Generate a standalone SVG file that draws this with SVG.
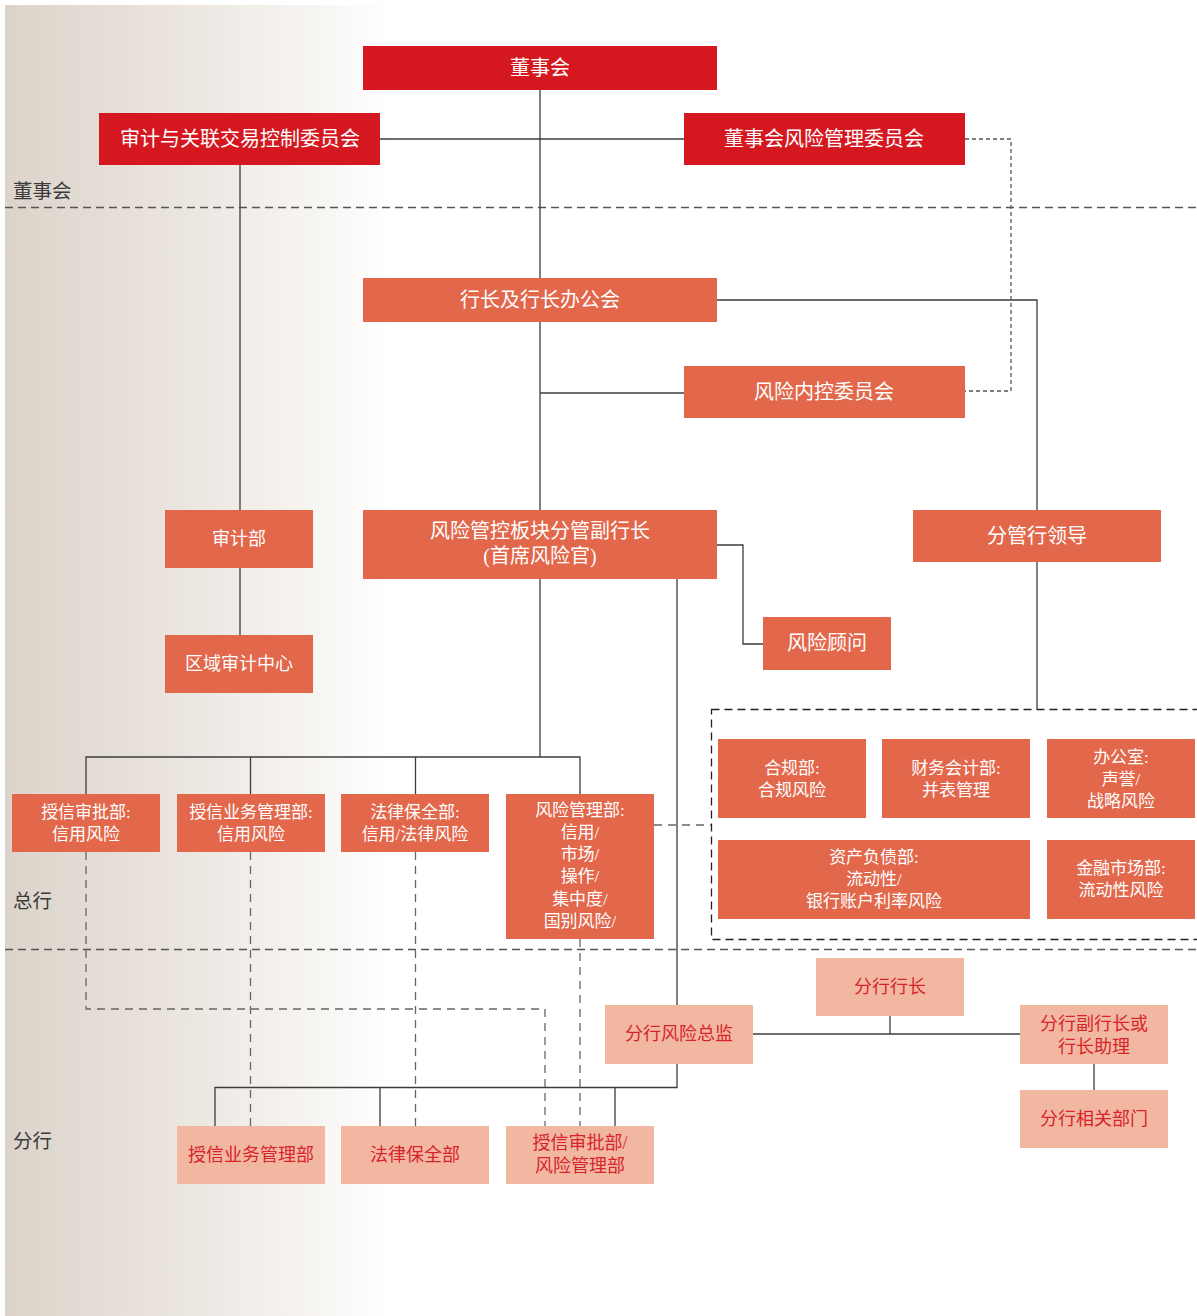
<svg xmlns="http://www.w3.org/2000/svg" width="1197" height="1316" viewBox="0 0 1197 1316">
<defs>
<linearGradient id="bg" x1="5" y1="0" x2="392" y2="0" gradientUnits="userSpaceOnUse">
<stop offset="0" stop-color="#dcd4ca"/>
<stop offset="0.45" stop-color="#ebe5df"/>
<stop offset="0.8" stop-color="#f7f5f2"/>
<stop offset="1" stop-color="#ffffff"/>
</linearGradient>
<style>
.t{font-family:"Liberation Serif","Noto Sans CJK SC",serif;text-anchor:middle}
.red{fill:#d5181f}
.org{fill:#e2674b}
.sal{fill:#f2b7a1}
.w{fill:#ffffff}
.rt{fill:#d7242a}
.f20{font-size:20px}
.f18{font-size:18px}
.f17{font-size:17px}
.lbl{font-family:"Liberation Serif","Noto Sans CJK SC",serif;font-size:19.5px;fill:#3a3a3a}
.sl{fill:none;stroke:#3c3c3c;stroke-width:1.3}
.dl{fill:none;stroke:#666;stroke-width:1.3;stroke-dasharray:8 6}
.sep{fill:none;stroke:#555;stroke-width:1.3;stroke-dasharray:8 5}
.fd{fill:none;stroke:#555;stroke-width:1.3;stroke-dasharray:4 3}
.bx{fill:none;stroke:#222;stroke-width:1.3;stroke-dasharray:8 5}
</style>
</defs>
<rect x="0" y="0" width="1197" height="1316" fill="#ffffff"/>
<rect x="5" y="5" width="388" height="1311" fill="url(#bg)"/>

<g id="separators">
<line class="sep" x1="5" y1="207.5" x2="1197" y2="207.5"/>
<line class="sep" x1="5" y1="949.5" x2="1197" y2="949.5"/>
<rect class="bx" x="711.5" y="709.5" width="520" height="230"/>
</g>
<g id="level-labels">
<text class="lbl" x="13" y="198">董事会</text>
<text class="lbl" x="13" y="908">总行</text>
<text class="lbl" x="13" y="1148">分行</text>
</g>

<g id="connectors">
<polyline class="sl" points="540,90 540,278"/>
<polyline class="sl" points="380,139 684,139"/>
<polyline class="sl" points="240,165 240,510"/>
<polyline class="sl" points="240,568 240,635"/>
<polyline class="sl" points="540,322 540,510"/>
<polyline class="sl" points="540,393 684,393"/>
<polyline class="sl" points="717,300 1037,300 1037,510"/>
<polyline class="sl" points="1037,562 1037,709"/>
<polyline class="sl" points="717,545 743,545 743,644 763,644"/>
<polyline class="sl" points="540,579 540,757"/>
<polyline class="sl" points="86,794 86,757 580,757 580,794"/>
<polyline class="sl" points="250.5,757 250.5,794"/>
<polyline class="sl" points="415.5,757 415.5,794"/>
<polyline class="sl" points="677,579 677,1005"/>
<polyline class="sl" points="677,1064 677,1087.5 215,1087.5 215,1126"/>
<polyline class="sl" points="380,1087 380,1126"/>
<polyline class="sl" points="615,1087 615,1126"/>
<polyline class="sl" points="753,1034 1020,1034"/>
<polyline class="sl" points="890,1016 890,1034"/>
<polyline class="sl" points="1094,1064 1094,1090"/>
<polyline class="fd" points="965,139 1011,139 1011,391 965,391"/>
<polyline class="dl" points="654,825 711,825"/>
<polyline class="dl" points="86,852 86,1009 545,1009 545,1126"/>
<polyline class="dl" points="250.5,852 250.5,1126"/>
<polyline class="dl" points="415.5,852 415.5,1126"/>
<polyline class="dl" points="580,939 580,1126"/>
</g>

<g id="n-board"><rect class="red" x="363" y="46" width="354" height="44"/><text class="t f20 w" x="540" y="75">董事会</text></g>
<g id="n-audit-committee"><rect class="red" x="99" y="113" width="281" height="52"/><text class="t f20 w" x="240" y="146">审计与关联交易控制委员会</text></g>
<g id="n-risk-committee"><rect class="red" x="684" y="113" width="281" height="52"/><text class="t f20 w" x="824" y="146">董事会风险管理委员会</text></g>
<g id="n-president"><rect class="org" x="363" y="278" width="354" height="44"/><text class="t f20 w" x="540" y="307">行长及行长办公会</text></g>
<g id="n-internal-control"><rect class="org" x="684" y="366" width="281" height="52"/><text class="t f20 w" x="824" y="399">风险内控委员会</text></g>
<g id="n-audit-dept"><rect class="org" x="165" y="510" width="148" height="58"/><text class="t f18 w" x="239" y="545">审计部</text></g>
<g id="n-cro"><rect class="org" x="363" y="510" width="354" height="69"/><text class="t f20 w" x="540" y="538">风险管控板块分管副行长</text><text class="t f20 w" x="540" y="563">(首席风险官)</text></g>
<g id="n-leader"><rect class="org" x="913" y="510" width="248" height="52"/><text class="t f20 w" x="1037" y="543">分管行领导</text></g>
<g id="n-regional-audit"><rect class="org" x="165" y="635" width="148" height="58"/><text class="t f18 w" x="239" y="670">区域审计中心</text></g>
<g id="n-risk-advisor"><rect class="org" x="763" y="617" width="128" height="53"/><text class="t f20 w" x="827" y="650">风险顾问</text></g>

<g id="n-credit-approval"><rect class="org" x="12" y="794" width="148" height="58"/><text class="t f17 w" x="86" y="818">授信审批部:</text><text class="t f17 w" x="86" y="840">信用风险</text></g>
<g id="n-credit-business"><rect class="org" x="177" y="794" width="148" height="58"/><text class="t f17 w" x="251" y="818">授信业务管理部:</text><text class="t f17 w" x="251" y="840">信用风险</text></g>
<g id="n-legal"><rect class="org" x="341" y="794" width="148" height="58"/><text class="t f17 w" x="415" y="818">法律保全部:</text><text class="t f17 w" x="415" y="840">信用/法律风险</text></g>
<g id="n-risk-mgmt"><rect class="org" x="506" y="794" width="148" height="145"/>
<text class="t f17 w" x="580" y="816">风险管理部:</text>
<text class="t f17 w" x="580" y="838">信用/</text>
<text class="t f17 w" x="580" y="860">市场/</text>
<text class="t f17 w" x="580" y="882">操作/</text>
<text class="t f17 w" x="580" y="905">集中度/</text>
<text class="t f17 w" x="580" y="927">国别风险/</text></g>
<g id="n-compliance"><rect class="org" x="718" y="739" width="148" height="79"/><text class="t f17 w" x="792" y="774">合规部:</text><text class="t f17 w" x="792" y="796">合规风险</text></g>
<g id="n-finance"><rect class="org" x="882" y="739" width="148" height="79"/><text class="t f17 w" x="956" y="774">财务会计部:</text><text class="t f17 w" x="956" y="796">并表管理</text></g>
<g id="n-office"><rect class="org" x="1047" y="739" width="148" height="79"/><text class="t f17 w" x="1121" y="763">办公室:</text><text class="t f17 w" x="1121" y="785">声誉/</text><text class="t f17 w" x="1121" y="807">战略风险</text></g>
<g id="n-alm"><rect class="org" x="718" y="840" width="312" height="79"/><text class="t f17 w" x="874" y="863">资产负债部:</text><text class="t f17 w" x="874" y="885">流动性/</text><text class="t f17 w" x="874" y="907">银行账户利率风险</text></g>
<g id="n-fin-market"><rect class="org" x="1047" y="840" width="148" height="79"/><text class="t f17 w" x="1121" y="874">金融市场部:</text><text class="t f17 w" x="1121" y="896">流动性风险</text></g>

<g id="n-branch-president"><rect class="sal" x="816" y="958" width="148" height="58"/><text class="t f18 rt" x="890" y="993">分行行长</text></g>
<g id="n-branch-cro"><rect class="sal" x="605" y="1005" width="148" height="59"/><text class="t f18 rt" x="679" y="1040">分行风险总监</text></g>
<g id="n-branch-vp"><rect class="sal" x="1020" y="1005" width="148" height="59"/><text class="t f18 rt" x="1094" y="1030">分行副行长或</text><text class="t f18 rt" x="1094" y="1053">行长助理</text></g>
<g id="n-branch-depts"><rect class="sal" x="1020" y="1090" width="148" height="58"/><text class="t f18 rt" x="1094" y="1125">分行相关部门</text></g>
<g id="n-branch-credit-business"><rect class="sal" x="177" y="1126" width="148" height="58"/><text class="t f18 rt" x="251" y="1161">授信业务管理部</text></g>
<g id="n-branch-legal"><rect class="sal" x="341" y="1126" width="148" height="58"/><text class="t f18 rt" x="415" y="1161">法律保全部</text></g>
<g id="n-branch-approval"><rect class="sal" x="506" y="1126" width="148" height="58"/><text class="t f18 rt" x="580" y="1149">授信审批部/</text><text class="t f18 rt" x="580" y="1172">风险管理部</text></g>
</svg>
